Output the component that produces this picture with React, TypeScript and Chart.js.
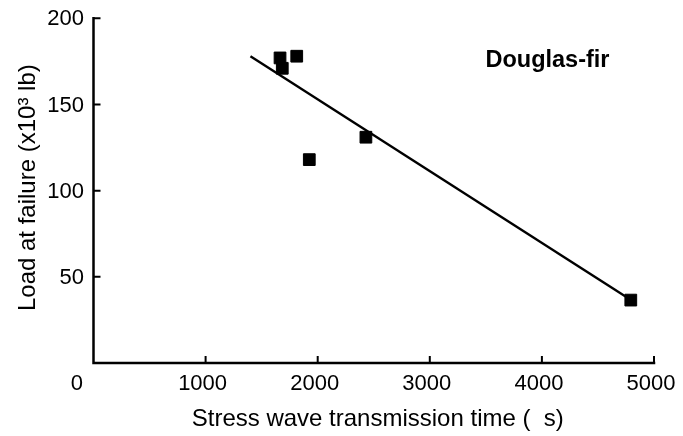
import { useEffect, useRef } from 'react';
import { Chart, registerables } from 'chart.js';

Chart.register(...registerables);

// ---- data ----
const stressTime = [1664, 1684, 1813, 1925, 2430, 4793];
const loadAtFailure = [177, 171, 178, 118, 131, 36.5];
const trendTime = [1400, 4760];
const trendLoad = [178, 38];
const xTicks = [0, 1000, 2000, 3000, 4000, 5000];
const yTicks = [0, 50, 100, 150, 200];
const xTitle = 'Stress wave transmission time (  s)';
const yTitle = 'Load at failure (x10\u00B3 lb)';
const speciesLabel = 'Douglas-fir';
const speciesPos = [4050, 176];

const FONT = '"Liberation Sans", Arial, Helvetica, sans-serif';

const decorPlugin = {
  id: 'decor',
  afterDraw(chart: any) {
    const ctx = chart.ctx as CanvasRenderingContext2D;
    const { left, right, top, bottom } = chart.chartArea;
    const xs = chart.scales.x;
    const ys = chart.scales.y;
    ctx.save();
    ctx.strokeStyle = '#000';
    ctx.fillStyle = '#000';
    // axis lines
    ctx.lineWidth = 2.5;
    ctx.lineCap = 'square';
    ctx.lineJoin = 'miter';
    ctx.beginPath();
    ctx.moveTo(left, top);
    ctx.lineTo(left, bottom);
    ctx.lineTo(right, bottom);
    ctx.stroke();
    // inward tick marks
    ctx.lineWidth = 2;
    ctx.lineCap = 'butt';
    ctx.beginPath();
    yTicks.forEach((v) => {
      if (v === 0) return;
      const p = ys.getPixelForValue(v);
      ctx.moveTo(left, p);
      ctx.lineTo(left + 7, p);
    });
    xTicks.forEach((v) => {
      if (v === 0) return;
      const p = xs.getPixelForValue(v);
      ctx.moveTo(p, bottom);
      ctx.lineTo(p, bottom - 7);
    });
    ctx.stroke();
    // tick labels
    ctx.font = `22px ${FONT}`;
    ctx.textBaseline = 'middle';
    ctx.textAlign = 'right';
    yTicks.forEach((v) => {
      if (v === 0) return;
      ctx.fillText(String(v), left - 9.5, ys.getPixelForValue(v) + 1);
    });
    ctx.textAlign = 'center';
    xTicks.forEach((v) => {
      const px = v === 0 ? xs.getPixelForValue(0) - 16.6 : xs.getPixelForValue(v) - 3;
      ctx.fillText(String(v), px, bottom + 21);
    });
    // x title
    ctx.font = `24px ${FONT}`;
    ctx.textBaseline = 'alphabetic';
    ctx.fillText(xTitle, (left + right) / 2 + 4, 426);
    // y title
    ctx.save();
    ctx.translate(35, (top + bottom) / 2 - 3);
    ctx.rotate(-Math.PI / 2);
    ctx.fillText(yTitle, 0, 0);
    ctx.restore();
    // species annotation
    ctx.font = `bold 23.5px ${FONT}`;
    ctx.textBaseline = 'alphabetic';
    ctx.fillText(
      speciesLabel,
      xs.getPixelForValue(speciesPos[0]),
      ys.getPixelForValue(speciesPos[1]) + 7
    );
    ctx.restore();
  },
};

export default function App() {
  const ref = useRef<HTMLCanvasElement | null>(null);
  useEffect(() => {
    if (!ref.current) return;
    const chart = new Chart(ref.current, {
      type: 'scatter',
      data: {
        datasets: [
          {
            label: 'Douglas-fir',
            data: stressTime.map((x, i) => ({ x, y: loadAtFailure[i] })),
            pointStyle: 'rect',
            pointRadius: 8.3,
            pointHoverRadius: 8.3,
            backgroundColor: '#000',
            borderColor: '#000',
            borderWidth: 1,
            showLine: false,
          },
          {
            label: 'Trend',
            data: trendTime.map((x, i) => ({ x, y: trendLoad[i] })),
            showLine: true,
            borderColor: '#000',
            borderWidth: 2.4,
            pointRadius: 0,
            pointHoverRadius: 0,
            fill: false,
          },
        ],
      },
      options: {
        animation: false,
        responsive: true,
        maintainAspectRatio: false,
        layout: { padding: { top: 18.3, right: 29, left: 0, bottom: 0 } },
        plugins: { legend: { display: false }, tooltip: { enabled: false } },
        scales: {
          x: {
            type: 'linear',
            min: 0,
            max: 5000,
            grid: { display: false, drawTicks: false, tickLength: 0 },
            border: { display: false },
            ticks: { display: false },
            afterBuildTicks: (s: any) => {
              s.ticks = xTicks.map((v) => ({ value: v }));
            },
            afterFit: (s: any) => {
              s.height = 73;
            },
          },
          y: {
            type: 'linear',
            min: 0,
            max: 200,
            grid: { display: false, drawTicks: false, tickLength: 0 },
            border: { display: false },
            ticks: { display: false },
            afterBuildTicks: (s: any) => {
              s.ticks = yTicks.map((v) => ({ value: v }));
            },
            afterFit: (s: any) => {
              s.width = 93.5;
            },
          },
        },
      },
      plugins: [decorPlugin],
    });
    return () => chart.destroy();
  }, []);
  return (
    <div style={{ position: 'fixed', left: 0, top: 0, width: 683, height: 436, background: '#fff' }}>
      <canvas ref={ref} />
    </div>
  );
}
